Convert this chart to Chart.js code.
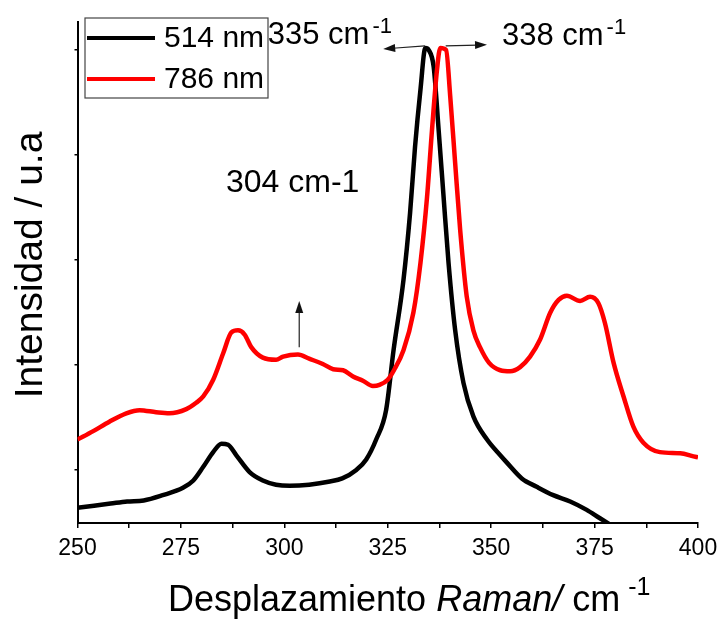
<!DOCTYPE html>
<html>
<head>
<meta charset="utf-8">
<script src="https://cdn.jsdelivr.net/npm/chart.js@4.4.1/dist/chart.umd.min.js"></script>
<style>
  html, body { margin: 0; padding: 0; background: #fff; }
  #wrap { width: 718px; height: 620px; }
</style>
</head>
<body>
<div id="wrap"><canvas id="raman" width="718" height="620"></canvas></div>
<script>
// Raman spectra (intensity in arbitrary units)
const shift514 = [250, 254, 258, 262, 266, 270.6, 275.5, 278, 280.4, 282.8, 284.8, 286.4, 288.4, 291.6, 294.8,
    298, 301.3, 306, 311, 314, 317.4, 319.8, 322.2, 324.6, 326.4, 328.8, 330.4, 331.6, 332.9, 334.1,
    334.9, 336.1, 337.3, 338.5, 339.7, 341.3, 343.3, 345.7, 349, 352.2, 353.8, 357.4, 361, 365, 369.1,
    373.1, 376.3, 380];
const intensity514 = [-0.36, -0.34, -0.32, -0.30, -0.29, -0.24, -0.17, -0.10, 0.03, 0.17, 0.25, 0.24, 0.14, -0.02, -0.10,
    -0.14, -0.15, -0.14, -0.11, -0.08, 0.00, 0.10, 0.29, 0.57, 1.14, 1.81, 2.45, 3.08, 3.62, 4.02,
    4.00, 3.84, 3.24, 2.60, 1.97, 1.33, 0.83, 0.51, 0.29, 0.14, 0.07, -0.08, -0.16, -0.24, -0.30,
    -0.38, -0.46, -0.55];

const shift786 = [250, 253.8, 257.7, 261.8, 265, 269, 272.2, 276.3, 278.7, 280.4, 282.8, 285.2, 287.2, 288.8, 290.4,
    292, 294.8, 298, 299.7, 303.3, 306, 309.3, 311.8, 314.2, 316.6, 319, 321.4, 323, 325, 326.5,
    328.8, 331.2, 332.9, 334.5, 335.7, 336.9, 337.7, 339.1, 340.1, 341.3, 342.5, 344.1, 345.7, 347.3, 349.5,
    352.2, 354.6, 357, 359.4, 361.8, 364.3, 366.3, 368.3, 371.5, 373.9, 375.9, 377.5, 379.6, 382, 384.4,
    386.8, 390.8, 395.7, 398.9, 400];
const intensity786 = [0.29, 0.37, 0.46, 0.54, 0.57, 0.55, 0.54, 0.58, 0.64, 0.70, 0.86, 1.11, 1.31, 1.33, 1.29,
    1.17, 1.07, 1.05, 1.08, 1.10, 1.06, 1.01, 0.96, 0.95, 0.89, 0.85, 0.80, 0.81, 0.86, 0.95,
    1.14, 1.50, 1.97, 2.60, 3.24, 3.81, 4.02, 4.00, 3.56, 2.92, 2.29, 1.65, 1.33, 1.17, 1.02,
    0.95, 0.94, 0.98, 1.08, 1.24, 1.50, 1.62, 1.66, 1.61, 1.65, 1.59, 1.40, 1.02, 0.70, 0.41,
    0.26, 0.17, 0.16, 0.13, 0.12];

const seriesLabels = ['514 nm', '786 nm'];
const xTicks = [250, 275, 300, 325, 350, 375, 400];
const yTicks = [0, 1, 2, 3, 4];

// peak labels and arrows, in data units
const peakLabels = [
    { text: '335 cm', sup: '-1', x: 296.0, y: 4.06 },
    { text: '338 cm', sup: '-1', x: 352.6, y: 4.05 },
    { text: '304 cm-1', sup: '', x: 285.9, y: 2.65 }
];
const peakArrows = [
    { x0: 334.0, y0: 4.04, x1: 323.9, y1: 4.01 },
    { x0: 339.0, y0: 4.04, x1: 349.0, y1: 4.05 },
    { x0: 303.6, y0: 1.17, x1: 303.6, y1: 1.61 }
];

const FONT = '"Liberation Sans", Arial, sans-serif';

const toPoints = (xs, ys) => xs.map((x, i) => ({ x: x, y: ys[i] }));

function drawArrow(ctx, x0, y0, x1, y1) {
    const ang = Math.atan2(y1 - y0, x1 - x0);
    const len = 12, half = 4;
    ctx.save();
    ctx.strokeStyle = '#222';
    ctx.fillStyle = '#111';
    ctx.lineWidth = 1.2;
    ctx.beginPath();
    ctx.moveTo(x0, y0);
    ctx.lineTo(x1 - Math.cos(ang) * len * 0.8, y1 - Math.sin(ang) * len * 0.8);
    ctx.stroke();
    ctx.beginPath();
    ctx.moveTo(x1, y1);
    ctx.lineTo(x1 - Math.cos(ang) * len - Math.sin(ang) * half, y1 - Math.sin(ang) * len + Math.cos(ang) * half);
    ctx.lineTo(x1 - Math.cos(ang) * len + Math.sin(ang) * half, y1 - Math.sin(ang) * len - Math.cos(ang) * half);
    ctx.closePath();
    ctx.fill();
    ctx.restore();
}

const decorations = {
    id: 'decorations',
    afterDraw(chart) {
        const ctx = chart.ctx;
        const xs = chart.scales.x, ys = chart.scales.y;
        ctx.save();
        ctx.fillStyle = '#000';
        ctx.textBaseline = 'alphabetic';
        ctx.textAlign = 'left';

        // peak labels
        peakLabels.forEach(p => {
            const px = xs.getPixelForValue(p.x), py = ys.getPixelForValue(p.y);
            ctx.font = (p.sup ? '31px ' : '32px ') + FONT;
            ctx.fillText(p.text, px, py);
            if (p.sup) {
                const w = ctx.measureText(p.text).width;
                ctx.font = '22px ' + FONT;
                ctx.fillText(p.sup, px + w + 3, py - 11);
            }
        });
        peakArrows.forEach(a => {
            drawArrow(ctx, xs.getPixelForValue(a.x0), ys.getPixelForValue(a.y0),
                xs.getPixelForValue(a.x1), ys.getPixelForValue(a.y1));
        });

        // legend box
        ctx.strokeStyle = '#444';
        ctx.lineWidth = 1.2;
        ctx.strokeRect(85, 18, 183, 80);
        chart.data.datasets.forEach((ds, i) => {
            const cy = 38 + i * 41;
            ctx.strokeStyle = ds.borderColor;
            ctx.lineWidth = 4;
            ctx.beginPath();
            ctx.moveTo(87, cy);
            ctx.lineTo(155, cy);
            ctx.stroke();
            ctx.fillStyle = '#000';
            ctx.font = '30px ' + FONT;
            ctx.textBaseline = 'middle';
            ctx.fillText(ds.label, 164, cy + 1);
        });

        // x axis title with italic part and superscript
        ctx.textBaseline = 'alphabetic';
        const parts = [
            { t: 'Desplazamiento ', f: '36px ' + FONT },
            { t: 'Raman/', f: 'italic 36px ' + FONT },
            { t: ' cm', f: '36px ' + FONT }
        ];
        parts.forEach(p => { ctx.font = p.f; p.w = ctx.measureText(p.t).width; });
        let x = 168;
        parts.forEach(p => { ctx.font = p.f; ctx.fillText(p.t, x, 611); x += p.w; });
        ctx.font = '25px ' + FONT;
        ctx.fillText('-1', x + 8, 595);

        // y axis title
        ctx.save();
        ctx.translate(42, 265);
        ctx.rotate(-Math.PI / 2);
        ctx.textAlign = 'center';
        ctx.font = '39px ' + FONT;
        ctx.fillText('Intensidad / u.a', 0, 0);
        ctx.restore();

        ctx.restore();
    }
};

new Chart(document.getElementById('raman'), {
    type: 'line',
    data: {
        datasets: [
            {
                label: seriesLabels[0],
                data: toPoints(shift514, intensity514),
                borderColor: '#000000',
                borderWidth: 4.5,
                pointRadius: 0,
                cubicInterpolationMode: 'monotone',
                clip: 0,
                order: 1
            },
            {
                label: seriesLabels[1],
                data: toPoints(shift786, intensity786),
                borderColor: '#ff0000',
                borderWidth: 4.5,
                pointRadius: 0,
                cubicInterpolationMode: 'monotone',
                clip: 0,
                order: 0
            }
        ]
    },
    options: {
        responsive: false,
        animation: false,
        layout: { padding: { top: 22, right: 20, left: 0, bottom: 0 } },
        plugins: {
            legend: { display: false },
            tooltip: { enabled: false }
        },
        scales: {
            x: {
                type: 'linear',
                min: 250,
                max: 400,
                afterBuildTicks: (scale) => {
                    const t = [];
                    for (let v = 250; v <= 400; v += 12.5) t.push({ value: v });
                    scale.ticks = t;
                },
                afterFit: (scale) => {
                    scale.height = 97;
                    scale.paddingLeft = 0;
                    scale.paddingRight = 0;
                },
                ticks: {
                    autoSkip: false,
                    maxRotation: 0,
                    padding: 7,
                    color: '#000',
                    font: { family: FONT, size: 23 },
                    callback: (v) => xTicks.includes(v) ? String(v) : ''
                },
                grid: { drawOnChartArea: false, drawTicks: true, tickLength: 5, color: '#000', lineWidth: 1.5 },
                border: { display: true, color: '#000', width: 2 }
            },
            y: {
                min: -0.505,
                max: 4.267,
                afterBuildTicks: (scale) => { scale.ticks = yTicks.map(v => ({ value: v })); },
                afterFit: (scale) => { scale.width = 77.5; },
                ticks: { display: false },
                grid: { drawOnChartArea: false, drawTicks: true, tickLength: 3, color: '#000', lineWidth: 1.5 },
                border: { display: true, color: '#000', width: 2 }
            }
        }
    },
    plugins: [decorations]
});
</script>
</body>
</html>
